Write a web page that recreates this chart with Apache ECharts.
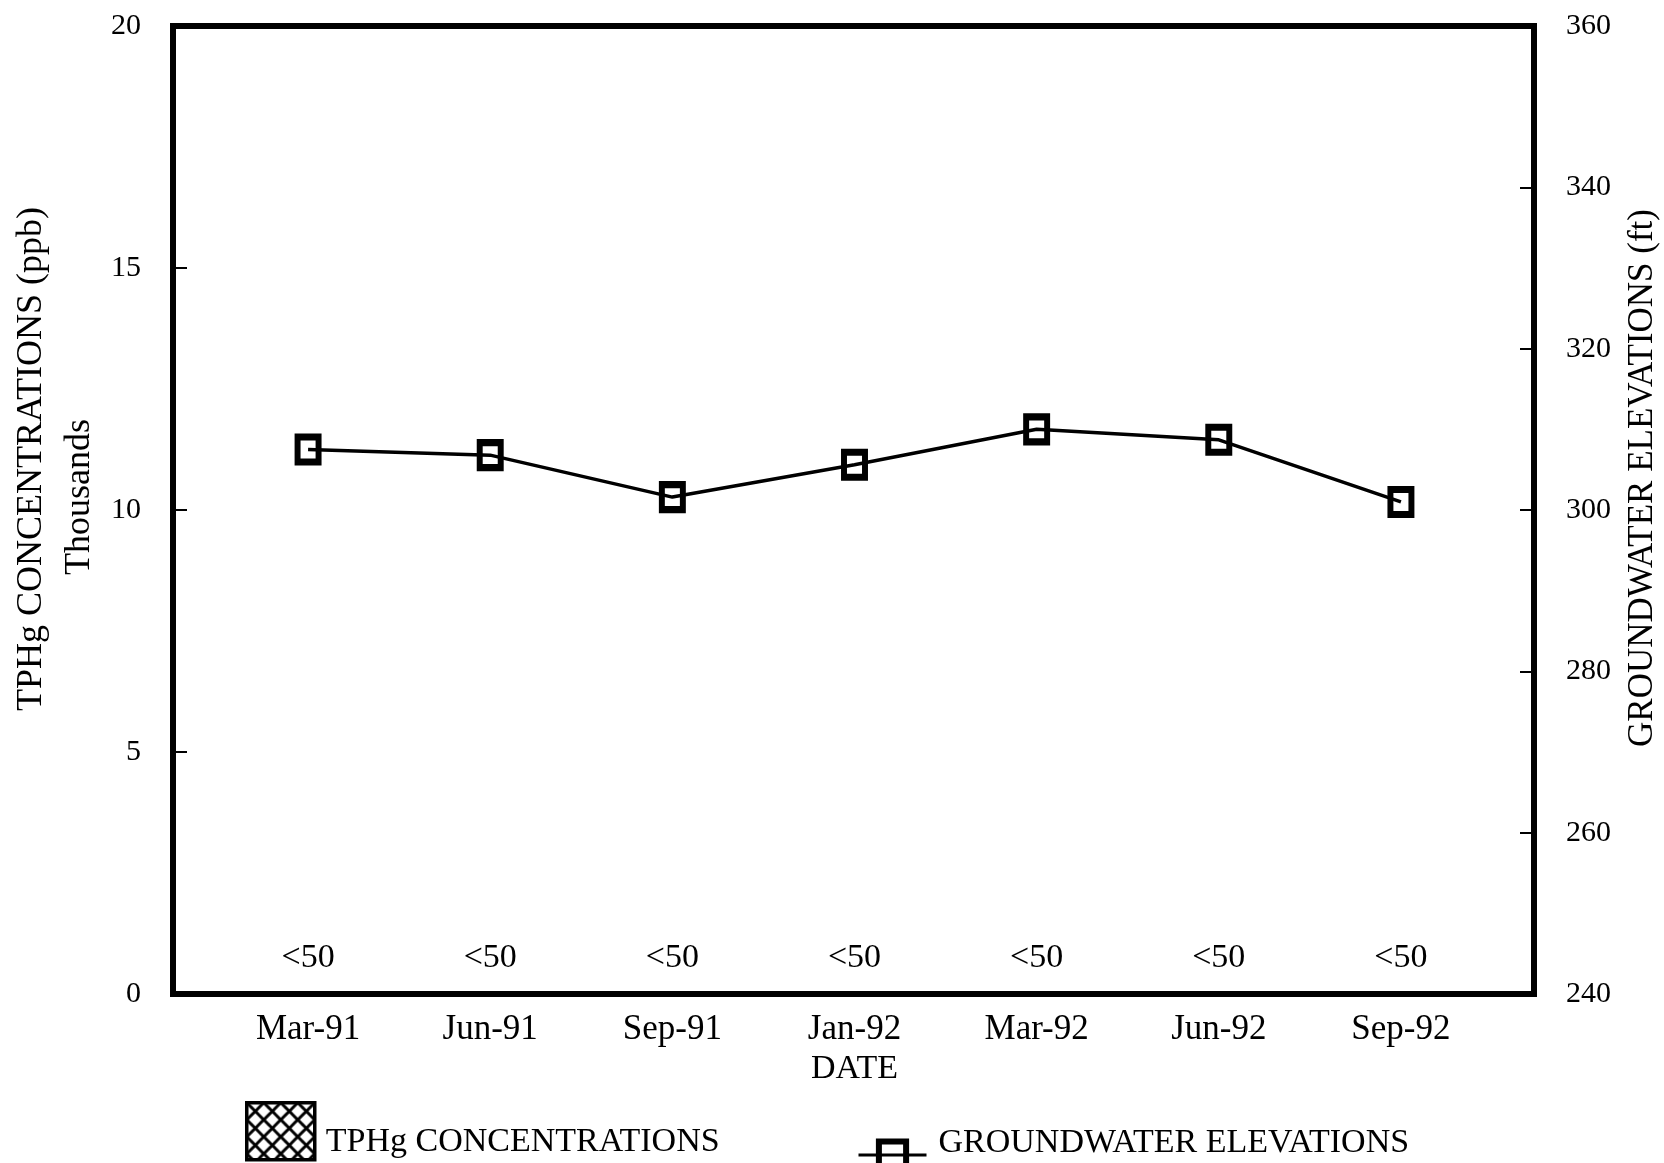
<!DOCTYPE html>
<html>
<head>
<meta charset="utf-8">
<script src="https://cdn.jsdelivr.net/npm/echarts@6/dist/echarts.min.js"></script>
<style>
html,body{margin:0;padding:0;background:#fff;}
#chart{width:1664px;height:1163px;}
</style>
</head>
<body>
<div id="chart"></div>
<script>
// ---- data ----
const categories = ['Mar-91', 'Jun-91', 'Sep-91', 'Jan-92', 'Mar-92', 'Jun-92', 'Sep-92'];
// TPHg concentrations in thousands of ppb (all below detection: <50 ppb)
const tphgValues = [0.05, 0.05, 0.05, 0.05, 0.05, 0.05, 0.05];
const tphgLabels = ['<50', '<50', '<50', '<50', '<50', '<50', '<50'];
// Groundwater elevations (ft)
const elevationValues = [307.5, 306.8, 301.6, 305.6, 310.0, 308.7, 301.0];
const leftTicks = { min: 0, max: 20, interval: 5 };
const rightTicks = { min: 240, max: 360, interval: 20 };

const FONT = 'Liberation Serif';

// crosshatch pattern
const pc = document.createElement('canvas');
pc.width = 17; pc.height = 17;
const pctx = pc.getContext('2d');
pctx.fillStyle = '#fff';
pctx.fillRect(0, 0, 17, 17);
pctx.strokeStyle = '#000';
pctx.lineWidth = 3;
pctx.beginPath();
pctx.moveTo(-1, -1); pctx.lineTo(18, 18);
pctx.moveTo(18, -1); pctx.lineTo(-1, 18);
pctx.stroke();

const chart = echarts.init(document.getElementById('chart'), null, { renderer: 'canvas' });

const tickStyle = { show: true, inside: true, length: 14, lineStyle: { color: '#000', width: 2 } };
const labelStyle = { color: '#000', fontFamily: FONT, fontSize: 30, margin: 32 };

const option = {
  backgroundColor: '#fff',
  animation: false,
  grid: [
    { left: 173, right: 130, top: 26, bottom: 169, show: true, borderColor: '#000', borderWidth: 6, backgroundColor: 'transparent' },
    { left: 217, right: 172, top: 26, bottom: 169 }
  ],
  xAxis: [
    { gridIndex: 0, type: 'value', show: false, min: 0, max: 1 },
    {
      gridIndex: 1, type: 'category', data: categories,
      axisLine: { show: false }, axisTick: { show: false },
      axisLabel: { color: '#000', fontFamily: FONT, fontSize: 35, margin: 18 },
      name: 'DATE', nameLocation: 'middle', nameGap: 56,
      nameTextStyle: { color: '#000', fontFamily: FONT, fontSize: 34 }
    }
  ],
  yAxis: [
    { gridIndex: 0, type: 'value', position: 'left', min: leftTicks.min, max: leftTicks.max, interval: leftTicks.interval,
      axisLine: { show: false }, axisTick: tickStyle, splitLine: { show: false }, axisLabel: labelStyle },
    { gridIndex: 0, type: 'value', position: 'right', min: rightTicks.min, max: rightTicks.max, interval: rightTicks.interval,
      axisLine: { show: false }, axisTick: tickStyle, splitLine: { show: false }, axisLabel: labelStyle },
    { gridIndex: 1, type: 'value', min: leftTicks.min, max: leftTicks.max, show: false },
    { gridIndex: 1, type: 'value', min: rightTicks.min, max: rightTicks.max, show: false }
  ],
  legend: [
    {
      data: [{ name: 'TPHg CONCENTRATIONS', icon: 'rect' }], left: 245, top: 1101, padding: 0,
      itemWidth: 68, itemHeight: 57,
      formatter: name => '\n' + name,
      textStyle: { color: '#000', fontFamily: FONT, fontSize: 34, lineHeight: 22, padding: [0, 0, 0, 6] },
      itemStyle: { borderColor: '#000', borderWidth: 3.5 }
    },
    {
      data: ['GROUNDWATER ELEVATIONS'], left: 857, top: 1126, padding: 0,
      itemWidth: 68, itemHeight: 34,
      formatter: name => name + '\n',
      textStyle: { color: '#000', fontFamily: FONT, fontSize: 34, lineHeight: 24, padding: [0, 0, 0, 7] },
      itemStyle: { borderColor: '#000', borderWidth: 6, color: 'rgba(255,255,255,0)' },
      lineStyle: { color: '#000', width: 3 }
    }
  ],
  graphic: [
    { type: 'text', rotation: Math.PI / 2, x: 32, y: 459,
      style: { text: 'TPHg CONCENTRATIONS (ppb)', fill: '#000', font: '36px "Liberation Serif"', align: 'center', verticalAlign: 'middle' } },
    { type: 'text', rotation: Math.PI / 2, x: 80, y: 497,
      style: { text: 'Thousands', fill: '#000', font: '36px "Liberation Serif"', align: 'center', verticalAlign: 'middle' } },
    { type: 'text', rotation: Math.PI / 2, x: 1643, y: 478,
      style: { text: 'GROUNDWATER ELEVATIONS (ft)', fill: '#000', font: '35px "Liberation Serif"', align: 'center', verticalAlign: 'middle' } }
  ],
  series: [
    {
      name: 'TPHg CONCENTRATIONS', type: 'bar', xAxisIndex: 1, yAxisIndex: 2,
      data: tphgValues, barWidth: 60,
      itemStyle: { color: { image: pc, repeat: 'repeat' }, borderColor: '#000', borderWidth: 3 },
      label: { show: true, position: 'top', distance: 16, color: '#000', fontFamily: FONT, fontSize: 34,
        formatter: p => tphgLabels[p.dataIndex] }
    },
    {
      name: 'GROUNDWATER ELEVATIONS', type: 'line', xAxisIndex: 1, yAxisIndex: 3,
      data: elevationValues, symbol: 'rect', symbolSize: [21, 25],
      lineStyle: { color: '#000', width: 3.5 },
      itemStyle: { color: 'rgba(255,255,255,0)', borderColor: '#000', borderWidth: 6.5 },
      z: 5
    }
  ]
};
chart.setOption(option);
</script>
</body>
</html>
